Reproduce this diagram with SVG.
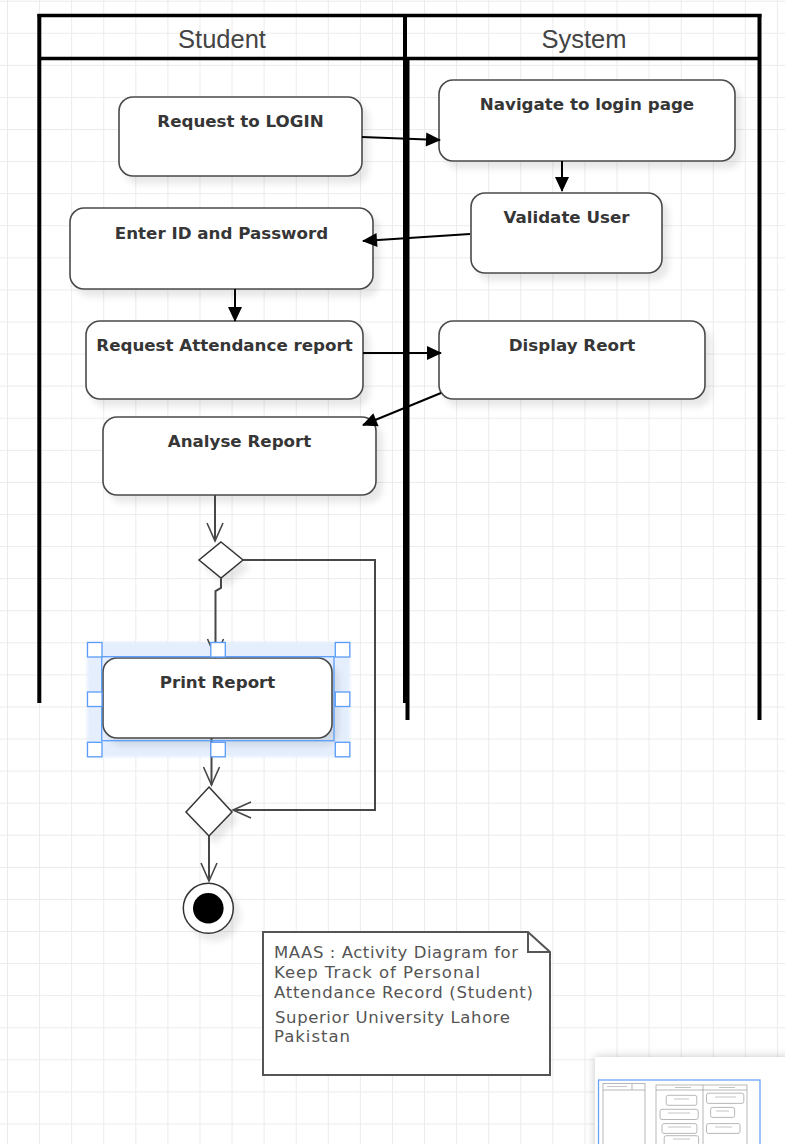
<svg xmlns="http://www.w3.org/2000/svg" width="785" height="1144" viewBox="0 0 785 1144">
<style>
.hdr{font-family:"Liberation Sans",Arial,sans-serif;font-size:25.5px;fill:#444;text-anchor:middle}
.nt{font-family:"DejaVu Sans","Liberation Sans",sans-serif;font-weight:bold;font-size:16.7px;fill:#363636;text-anchor:middle}
.act{fill:#fff;stroke:#4a4a4a;stroke-width:1.6}
.dec{fill:#fff;stroke:#333;stroke-width:1.5}
.sol{fill:none;stroke:#000;stroke-width:2}
.flow{fill:none;stroke:#474747;stroke-width:2}
.lane{stroke:#000;fill:none}
.note{font-family:"DejaVu Sans","Liberation Sans",sans-serif;font-size:16.5px;fill:#555}
.hd{fill:#fff;stroke:#5a9cf8;stroke-width:1.3}
.mm{fill:#fff;stroke:#9a9a9a;stroke-width:0.7}
.mmt{stroke:#c4c4c4;stroke-width:1}
</style>
<defs>
<pattern id="grid" x="7" y="0.7" width="32.08" height="32.08" patternUnits="userSpaceOnUse">
<path d="M0.5,0 V32.08 M0,0.5 H32.08" fill="none" stroke="#ebebeb" stroke-width="1"/>
</pattern>
<filter id="sh" x="-15%" y="-15%" width="140%" height="150%">
<feGaussianBlur in="SourceAlpha" stdDeviation="3" result="b"/>
<feOffset in="b" dx="6" dy="7" result="o"/>
<feFlood flood-color="#000" flood-opacity="0.09"/>
<feComposite in2="o" operator="in" result="s"/>
<feMerge><feMergeNode in="s"/><feMergeNode in="SourceGraphic"/></feMerge>
</filter>
<filter id="glow" x="-10%" y="-10%" width="120%" height="120%">
<feGaussianBlur stdDeviation="1.5"/>
</filter>
<filter id="mmsh" x="-20%" y="-30%" width="140%" height="160%">
<feGaussianBlur in="SourceAlpha" stdDeviation="5" result="b"/>
<feFlood flood-color="#000" flood-opacity="0.22"/>
<feComposite in2="b" operator="in" result="s"/>
<feMerge><feMergeNode in="s"/><feMergeNode in="SourceGraphic"/></feMerge>
</filter>
<marker id="fa" markerWidth="16" markerHeight="14" refX="14" refY="7" orient="auto" markerUnits="userSpaceOnUse" overflow="visible">
<path d="M0,0 L15,7 L0,14 Z" fill="#000"/>
</marker>
<marker id="va" markerWidth="20" markerHeight="18" refX="18" refY="9" orient="auto" markerUnits="userSpaceOnUse" overflow="visible">
<path d="M0,1 L18,9 L0,17" fill="none" stroke="#474747" stroke-width="1.6"/>
</marker>
</defs>

<rect x="0" y="0" width="785" height="1144" fill="#fff"/>
<rect x="0" y="0" width="785" height="1144" fill="url(#grid)"/>

<g id="pool">
<line class="lane" x1="37.5" y1="15.5" x2="761.5" y2="15.5" stroke-width="3.5"/>
<line class="lane" x1="39" y1="58.5" x2="760" y2="58.5" stroke-width="3.5"/>
<line class="lane" x1="39.3" y1="14" x2="39.3" y2="703" stroke-width="4"/>
<line class="lane" x1="407.5" y1="58" x2="407.5" y2="720" stroke-width="4"/>
<line class="lane" x1="405" y1="14" x2="405" y2="703" stroke-width="4"/>
<line class="lane" x1="759.5" y1="14" x2="759.5" y2="720" stroke-width="4"/>
<text class="hdr" x="222" y="48">Student</text>
<text class="hdr" x="584" y="48">System</text>
</g>

<g id="n1"><rect class="act" x="119" y="97" width="243" height="79" rx="14" filter="url(#sh)"/><text class="nt" x="240.5" y="127">Request to LOGIN</text></g>
<g id="n2"><rect class="act" x="439" y="80" width="296" height="81" rx="14" filter="url(#sh)"/><text class="nt" x="587" y="110">Navigate to login page</text></g>
<g id="n3"><rect class="act" x="471" y="193" width="191" height="80" rx="14" filter="url(#sh)"/><text class="nt" x="566.5" y="222.5">Validate User</text></g>
<g id="n4"><rect class="act" x="70" y="208" width="303" height="81" rx="14" filter="url(#sh)"/><text class="nt" x="221.5" y="239">Enter ID and Password</text></g>
<g id="n5"><rect class="act" x="86" y="321" width="277" height="78" rx="14" filter="url(#sh)"/><text class="nt" x="224.5" y="351">Request Attendance report</text></g>
<g id="n6"><rect class="act" x="439" y="321" width="266" height="78" rx="14" filter="url(#sh)"/><text class="nt" x="572" y="351">Display Reort</text></g>
<g id="n7"><rect class="act" x="103" y="417" width="273" height="78" rx="14" filter="url(#sh)"/><text class="nt" x="239.5" y="447">Analyse Report</text></g>
<g id="d1"><polygon class="dec" points="221,542 243,560 221,578 199,560" filter="url(#sh)"/></g>

<g id="selection-glow"><rect x="87" y="642" width="263" height="115" fill="#e4eefc" filter="url(#glow)"/></g>
<g id="n8"><rect class="act" x="103" y="658" width="229" height="80" rx="14" filter="url(#sh)"/><text class="nt" x="217.5" y="688">Print Report</text></g>
<g id="d2"><polygon class="dec" points="209,787 232,812 209,836 186,812" filter="url(#sh)"/></g>
<g id="final"><circle cx="208.3" cy="908.3" r="25" fill="#fff" stroke="#333" stroke-width="1.5" filter="url(#sh)"/><circle cx="208.3" cy="908.3" r="15.3" fill="#000"/></g>

<g id="connectors">
<path class="sol" d="M362,137 L440,140" marker-end="url(#fa)"/>
<path class="sol" d="M562,161 V191" marker-end="url(#fa)"/>
<path class="sol" d="M470,234 L363,241" marker-end="url(#fa)"/>
<path class="sol" d="M235,289 V321" marker-end="url(#fa)"/>
<path class="sol" d="M363,353 H441" marker-end="url(#fa)"/>
<path class="sol" d="M441,393 L363,425" marker-end="url(#fa)"/>
<path class="flow" d="M215,495 V541" marker-end="url(#va)"/>
<path class="flow" d="M221,578 V588 L215.5,591 V657" marker-end="url(#va)"/>
<path class="flow" d="M243,560 H375 V810 H233" marker-end="url(#va)"/>
<path class="flow" d="M211.5,738 V785" marker-end="url(#va)"/>
<path class="flow" d="M209,836 V881" marker-end="url(#va)"/>
</g>

<g id="selection">
<rect x="101.7" y="656.7" width="232.3" height="84" fill="none" stroke="#5a9cf8" stroke-width="1.3"/>
<rect class="hd" x="87.5" y="642.5" width="14.5" height="14.5"/>
<rect class="hd" x="210.8" y="642.5" width="14.5" height="14.5"/>
<rect class="hd" x="335.3" y="642.5" width="14.5" height="14.5"/>
<rect class="hd" x="87.5" y="692" width="14.5" height="14.5"/>
<rect class="hd" x="335.3" y="692" width="14.5" height="14.5"/>
<rect class="hd" x="87.5" y="742.3" width="14.5" height="14.5"/>
<rect class="hd" x="210.8" y="742.3" width="14.5" height="14.5"/>
<rect class="hd" x="335.3" y="742.3" width="14.5" height="14.5"/>
</g>

<g id="note">
<path d="M263,932 H528 L550,952 V1075 H263 Z" fill="#fff" stroke="#555" stroke-width="2"/>
<path d="M528,932 V952 H550" fill="none" stroke="#555" stroke-width="2"/>
<text class="note" x="274" y="958" textLength="244">MAAS : Activity Diagram for</text>
<text class="note" x="274" y="978" textLength="206">Keep Track of Personal</text>
<text class="note" x="274" y="998" textLength="259">Attendance Record (Student)</text>
<text class="note" x="275" y="1023" textLength="235">Superior University Lahore</text>
<text class="note" x="274" y="1042" textLength="76">Pakistan</text>
</g>

<g id="minimap">
<rect x="595" y="1057" width="200" height="100" fill="#fff" filter="url(#mmsh)"/>
<rect class="mm" x="603" y="1083.5" width="42" height="70"/>
<line class="mm" x1="603" y1="1090" x2="645" y2="1090"/>
<line class="mm" x1="632" y1="1083.5" x2="632" y2="1090"/>
<line class="mmt" x1="607" y1="1086.5" x2="627" y2="1086.5"/>
<rect class="mm" x="656" y="1085" width="91" height="70"/>
<line class="mm" x1="656" y1="1090" x2="747" y2="1090"/>
<line class="mm" x1="703" y1="1085" x2="703" y2="1155"/>
<line class="mmt" x1="675" y1="1087.5" x2="691" y2="1087.5"/>
<line class="mmt" x1="719" y1="1087.5" x2="735" y2="1087.5"/>
<rect class="mm" x="666.2" y="1095.3" width="30.6" height="10" rx="2"/>
<rect class="mm" x="706.5" y="1093.2" width="37.3" height="10.2" rx="2"/>
<rect class="mm" x="710.6" y="1107.4" width="24" height="10" rx="2"/>
<rect class="mm" x="660" y="1109.3" width="38.2" height="10.2" rx="2"/>
<rect class="mm" x="662" y="1123.6" width="34.9" height="9.8" rx="2"/>
<rect class="mm" x="706.5" y="1123.6" width="33.5" height="9.8" rx="2"/>
<rect class="mm" x="664.2" y="1135.7" width="34.4" height="9.8" rx="2"/>
<line class="mmt" x1="674" y1="1099" x2="689" y2="1099"/>
<line class="mmt" x1="715" y1="1097" x2="736" y2="1097"/>
<line class="mmt" x1="716" y1="1111" x2="729" y2="1111"/>
<line class="mmt" x1="668" y1="1113" x2="690" y2="1113"/>
<line class="mmt" x1="668" y1="1127" x2="691" y2="1127"/>
<line class="mmt" x1="715" y1="1127" x2="732" y2="1127"/>
<line class="mmt" x1="673" y1="1139" x2="690" y2="1139"/>
<rect x="598.5" y="1080" width="161.5" height="70" fill="none" stroke="#6aa3f5" stroke-width="1.3"/>
</g>
</svg>
